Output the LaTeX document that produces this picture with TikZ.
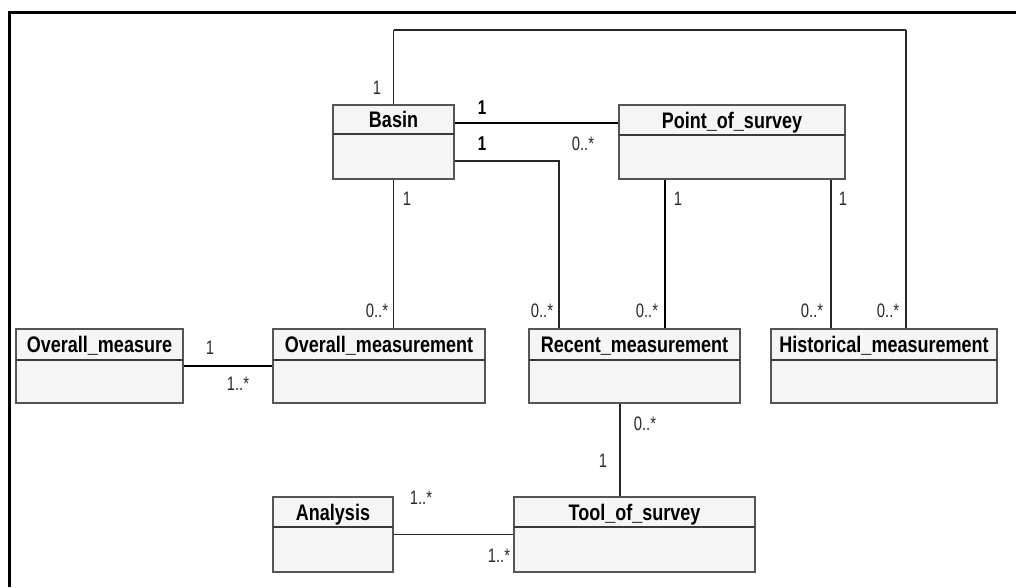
\documentclass[tikz,border=0pt]{standalone}
\usepackage{fontspec}
\setmainfont{Liberation Sans}
\newfontfamily\namefont{Liberation Sans}[FakeStretch=0.8]
\newfontfamily\labfont{Liberation Sans}[FakeStretch=0.76]
\usetikzlibrary{fit}
\definecolor{boxfill}{HTML}{F5F5F5}
\definecolor{boxline}{HTML}{555555}
\definecolor{sepline}{HTML}{3A3A3A}
\definecolor{labcol}{HTML}{2A2A2A}
\tikzset{
  clsbox/.style={draw=boxline, fill=boxfill, line width=1.4pt, inner sep=0pt},
  clssep/.style={draw=sepline, line width=2.2pt},
  clsname/.style={inner sep=0pt, text height=16pt, text depth=0pt, text=black,
    font=\namefont\fontsize{22.5}{25}\selectfont\bfseries},
  lab/.style={inner sep=0pt, text height=14pt, text depth=0pt, text=labcol,
    font=\labfont\fontsize{19.5}{22}\selectfont},
  blab/.style={lab, text=black, font=\labfont\fontsize{20}{22}\selectfont\bfseries},
  thinln/.style={draw=black!85, line width=1.2pt},
  midln/.style={draw=black!85, line width=1.9pt},
  thickln/.style={draw=black, line width=2.6pt},
  frameln/.style={draw=black, line width=3pt},
}
\newcommand\umlclass[7]{%
  \node[clsbox, fit={(#2,#3) (#4,#5)}] (#1) {};
  \draw[clssep] (#2,#6) -- (#4,#6);
  \node[clsname] (#1-name) at ({(#2+#4)/2},{(#3+#6)/2}) {#7};
}
\begin{document}
\begin{tikzpicture}[x=1pt,y=-1pt]
\useasboundingbox (0,0) rectangle (1016,587);
% frame
\draw[frameln] (9.5,587) -- (9.5,12.5) -- (1016,12.5);
% classes
\umlclass{basin}{333}{105}{454}{179}{134}{Basin}
\umlclass{pos}{619}{105}{845}{179}{135}{Point\_of\_survey}
\umlclass{om}{16}{329}{183}{403}{360}{Overall\_measure}
\umlclass{omt}{273}{329}{485}{403}{360}{Overall\_measurement}
\umlclass{rec}{529}{329}{740}{403}{360}{Recent\_measurement}
\umlclass{hist}{771}{329}{997}{403}{360}{Historical\_measurement}
\umlclass{ana}{273}{497}{393}{572}{527}{Analysis}
\umlclass{tool}{514}{497}{755}{572}{527}{Tool\_of\_survey}
% connectors
\coordinate (topy) at (0,30);
\draw[thinln] (basin.north) -- (basin.north |- topy);
\draw[thinln] ([xshift=22pt]hist.north) -- ([xshift=22pt]hist.north |- topy);
\draw[midln] (basin.north |- topy) -- ([xshift=22pt]hist.north |- topy);
\draw[thickln] ([yshift=19pt]basin.east) -- ([yshift=19pt]basin.east -| pos.west);
\draw[thinln] ([yshift=-19pt]basin.east) -| ([xshift=-75.5pt]rec.north);
\draw[thinln] (basin.south) -- (basin.south |- omt.north);
\draw[thickln] ([xshift=-67pt]pos.south) -- ([xshift=-67pt]pos.south |- rec.north);
\draw[thinln] ([xshift=99pt]pos.south) -- ([xshift=99pt]pos.south |- hist.north);
\draw[thickln] (om.east) -- (omt.west);
\draw[thinln] ([xshift=-14.5pt]rec.south) -- ([xshift=-14.5pt]tool.north);
\draw[midln] (ana.east) -- (tool.west);
% multiplicities
\node[lab] (l1) at (377,87) {1};
\node[blab] (l2) at (482,107) {1};
\node[blab] (l3) at (482,143) {1};
\node[lab] (l4) at (583,143) {0..*};
\node[lab] (l5) at (407,198) {1};
\node[lab] (l6) at (377,310) {0..*};
\node[lab] (l7) at (542,310) {0..*};
\node[lab] (l8) at (678,198) {1};
\node[lab] (l9) at (647,310) {0..*};
\node[lab] (l10) at (843,198) {1};
\node[lab] (l11) at (812,310) {0..*};
\node[lab] (l12) at (888,310) {0..*};
\node[lab] (l13) at (210,347) {1};
\node[lab] (l14) at (238,383) {1..*};
\node[lab] (l15) at (645,423) {0..*};
\node[lab] (l16) at (603,460) {1};
\node[lab] (l17) at (421,497) {1..*};
\node[lab] (l18) at (499,555) {1..*};
\end{tikzpicture}
\end{document}
